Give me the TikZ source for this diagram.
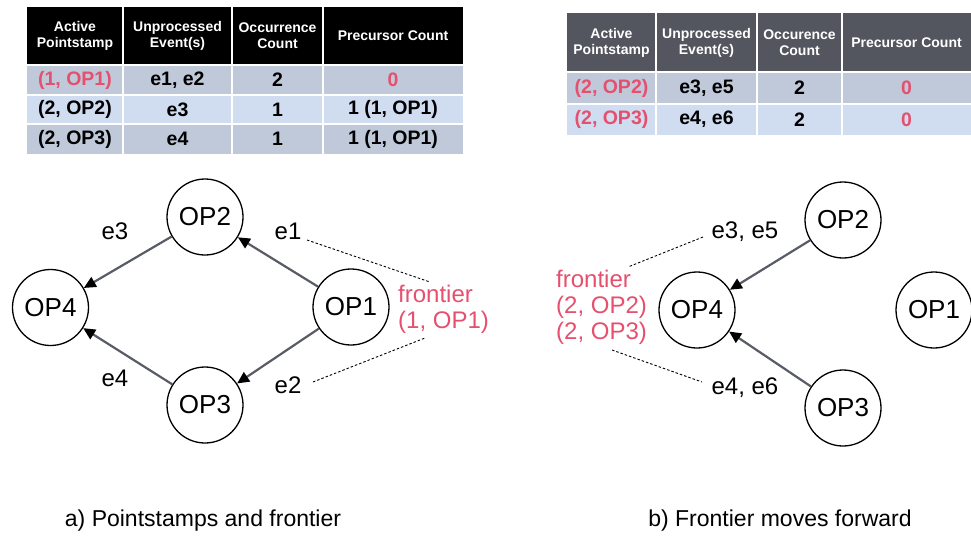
\documentclass[tikz,border=0pt]{standalone}
\usepackage{fontspec}
\setmainfont{Liberation Sans}
\usetikzlibrary{arrows.meta}
\definecolor{frontred}{RGB}{228,80,110}
\definecolor{rowA}{RGB}{191,201,217}
\definecolor{rowB}{RGB}{208,221,240}
\definecolor{hdrgray}{RGB}{83,86,94}
\definecolor{edgegray}{RGB}{88,92,100}
\begin{document}
\begin{tikzpicture}[x=1pt,y=-1pt,
  hdr/.style={font=\fontsize{14}{16}\selectfont\bfseries, text=white, align=center, inner sep=0},
  cell/.style={font=\fontsize{19.5}{20}\selectfont\bfseries, inner sep=0},
  red cell/.style={cell, text=frontred},
  op/.style={circle, draw, line width=1.3pt, minimum size=76pt, inner sep=0, font=\fontsize{26}{26}\selectfont},
  lbl/.style={font=\fontsize{24}{24}\selectfont, inner sep=0},
  front/.style={font=\fontsize{24}{26}\selectfont, text=frontred, align=left, inner sep=0, anchor=west},
  edge/.style={draw=edgegray, line width=2.2pt, -{Triangle[length=12pt,width=11pt,color=black]}},
  dots/.style={draw=black, line width=0.9pt, dash pattern=on 2.5pt off 2pt},
  caption/.style={font=\fontsize{23}{23}\selectfont, inner sep=0},
  grid/.style={draw=white, line width=2pt}]
\useasboundingbox (0,0) rectangle (971,535);

% ---------- Table 1 ----------
\fill[black] (27,7) rectangle (463,65);
\fill[rowA] (27,65) rectangle (463,95);
\fill[rowB] (27,95) rectangle (463,124);
\fill[rowA] (27,124) rectangle (463,154);
\draw[grid] (123,7)--(123,154) (232,7)--(232,154) (323,7)--(323,154)
  (27,65)--(463,65) (27,95)--(463,95) (27,124)--(463,124);

\node[hdr] (t1h1) at (75,36) {Active\\Pointstamp};
\node[hdr] (t1h2) at (177.5,36) {Unprocessed\\Event(s)};
\node[hdr] (t1h3) at (277.5,36) {Occurrence\\Count};
\node[hdr] (t1h4) at (393,36) {Precursor Count};

\node[red cell] (t1a1) at (75,80) {(1, OP1)};
\node[cell] (t1a2) at (177.5,80) {e1, e2};
\node[cell] (t1a3) at (277.5,80) {2};
\node[red cell] (t1a4) at (393,80) {0};

\node[cell] (t1b1) at (75,109.5) {(2, OP2)};
\node[cell] (t1b2) at (177.5,109.5) {e3};
\node[cell] (t1b3) at (277.5,109.5) {1};
\node[cell] (t1b4) at (393,109.5) {1 (1, OP1)};

\node[cell] (t1c1) at (75,139) {(2, OP3)};
\node[cell] (t1c2) at (177.5,139) {e4};
\node[cell] (t1c3) at (277.5,139) {1};
\node[cell] (t1c4) at (393,139) {1 (1, OP1)};

% ---------- Table 2 ----------
\fill[hdrgray] (567,13) rectangle (971,72);
\fill[rowA] (567,72) rectangle (971,104);
\fill[rowB] (567,104) rectangle (971,135);
\draw[grid] (656,13)--(656,135) (757,13)--(757,135) (842,13)--(842,135)
  (567,72)--(971,72) (567,104)--(971,104);

\node[hdr] (t2h1) at (611.5,42.5) {Active\\Pointstamp};
\node[hdr] (t2h2) at (706.5,42.5) {Unprocessed\\Event(s)};
\node[hdr] (t2h3) at (799.5,42.5) {Occurence\\Count};
\node[hdr] (t2h4) at (906.5,42.5) {Precursor Count};

\node[red cell] (t2a1) at (611.5,88) {(2, OP2)};
\node[cell] (t2a2) at (706.5,88) {e3, e5};
\node[cell] (t2a3) at (799.5,88) {2};
\node[red cell] (t2a4) at (906.5,88) {0};

\node[red cell] (t2b1) at (611.5,119.5) {(2, OP3)};
\node[cell] (t2b2) at (706.5,119.5) {e4, e6};
\node[cell] (t2b3) at (799.5,119.5) {2};
\node[red cell] (t2b4) at (906.5,119.5) {0};

% ---------- Graph a ----------
\node[op] (a2) at (205,217) {OP2};
\node[op] (a4) at (50.5,307.5) {OP4};
\node[op] (a1) at (351,307) {OP1};
\node[op] (a3) at (205,405) {OP3};
\draw[edge] (a1) -- (a2);
\draw[edge] (a2) -- (a4);
\draw[edge] (a1) -- (a3);
\draw[edge] (a3) -- (a4);

\node[lbl] (e3a) at (115,231) {e3};
\node[lbl] (e1a) at (288,231) {e1};
\node[lbl] (e4a) at (115,378) {e4};
\node[lbl] (e2a) at (288,385) {e2};
\node[front] (fa) at (398,309) {frontier\\(1, OP1)};
\coordinate (da1) at (307,240);
\coordinate (da2) at (430,282);
\coordinate (da3) at (313,382);
\coordinate (da4) at (425,338);
\draw[dots] (da1) -- (da2);
\draw[dots] (da3) -- (da4);

% ---------- Graph b ----------
\node[op] (b2) at (843,220) {OP2};
\node[op] (b4) at (697,310) {OP4};
\node[op] (b1) at (934,310) {OP1};
\node[op] (b3) at (843,408) {OP3};
\draw[edge] (b2) -- (b4);
\draw[edge] (b3) -- (b4);

\node[lbl] (e35) at (745,232) {e3, e5};
\node[lbl] (e46) at (745,388) {e4, e6};
\node[front] (fb) at (556,307) {frontier\\(2, OP2)\\(2, OP3)};
\coordinate (db1) at (703,237);
\coordinate (db2) at (628,267);
\coordinate (db3) at (612,350);
\coordinate (db4) at (702,382);
\draw[dots] (db1) -- (db2);
\draw[dots] (db3) -- (db4);

% ---------- Captions ----------
\node[caption] (capa) at (203,521) {a) Pointstamps and frontier};
\node[caption] (capb) at (780,521) {b) Frontier moves forward};
\end{tikzpicture}
\end{document}
